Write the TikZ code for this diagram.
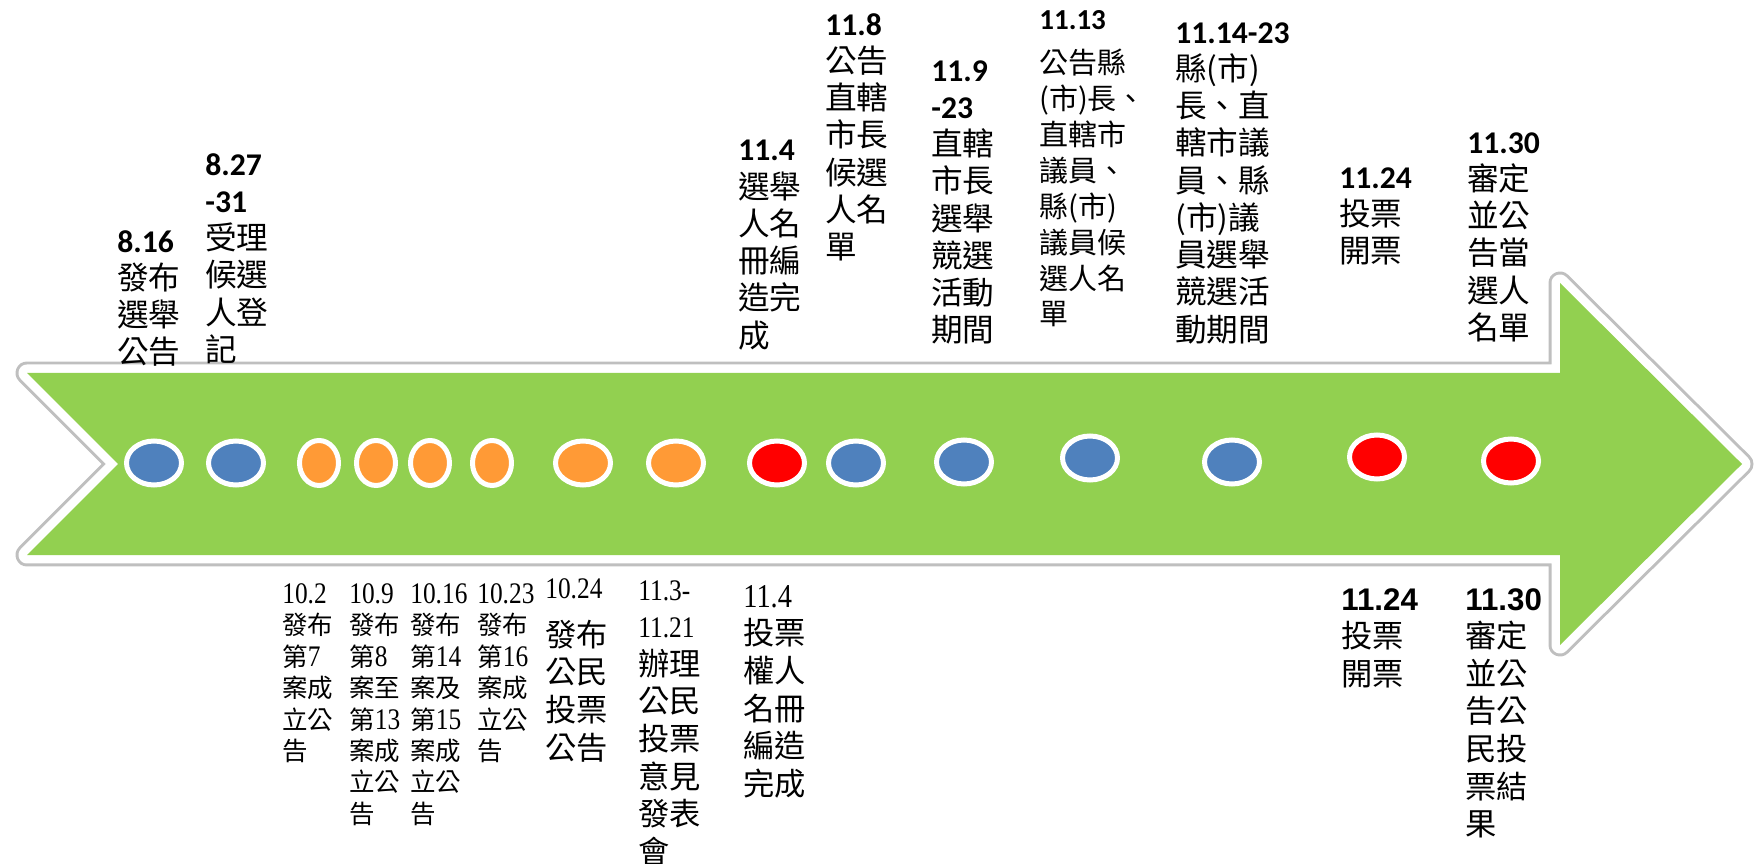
\documentclass[tikz,border=0pt]{standalone}
\usepackage{fontspec}
\usetikzlibrary{shapes.geometric}

\setmainfont{Noto Sans CJK TC}
\newfontfamily\datefont{Carlito}
\newfontfamily\serifnarrow{Liberation Serif}[FakeStretch=0.85]
\newfontfamily\arialfont{Liberation Sans}

\definecolor{arrowgreen}{HTML}{92D050}
\definecolor{evtblue}{HTML}{4F81BD}
\definecolor{evtorange}{HTML}{FF9A36}
\definecolor{evtred}{HTML}{FF0000}

\newcommand\topdate[1]{{\datefont\bfseries #1}}
\newcommand\serdate[1]{{\fontsize{17pt}{18pt}\selectfont\serifnarrow #1}}
\newcommand\arialdate[1]{{\arialfont\bfseries #1}}

\begin{document}
\begin{tikzpicture}[
        x=0.02cm, y=-0.02cm,
        evt/.style={ellipse, draw=white, line width=0.1cm, fill=#1,
            minimum width=1.1cm, minimum height=0.88cm, inner sep=0pt},
        evtnarrow/.style={evt=#1, minimum width=0.78cm, minimum height=0.9cm},
        uplabel/.style={anchor=north west, align=left, inner sep=0pt,
            font={\fontsize{18pt}{21.2pt}\selectfont}},
        upsmall/.style={uplabel, font={\fontsize{16.5pt}{20.4pt}\selectfont}},
        lowsmall/.style={uplabel, font={\fontsize{14.5pt}{17.9pt}\selectfont}},
        lowlabel/.style={uplabel, font={\fontsize{17.8pt}{21.4pt}\selectfont}}
        ]
        \useasboundingbox (0,0) rectangle (1754,864);

        % The arrow
        \fill[arrowgreen,
            preaction={draw=black!25, line width=0.46cm, line join=round},
            preaction={draw=white, line width=0.34cm, line join=round}]
            (27,373) -- (1560,373) -- (1560,283) -- (1742,464) -- (1560,645)
            -- (1560,555) -- (27,555) -- (118,464) -- cycle;

        % Define the events
        \node[evt=evtblue] (e1) at (154,463) {};
        \node[evt=evtblue] (e2) at (236,463) {};
        \node[evtnarrow=evtorange] (e3) at (319,463) {};
        \node[evtnarrow=evtorange] (e4) at (376,463) {};
        \node[evtnarrow=evtorange] (e5) at (430,463) {};
        \node[evtnarrow=evtorange] (e6) at (492,463) {};
        \node[evt=evtorange] (e7) at (583,463) {};
        \node[evt=evtorange] (e8) at (676,463) {};
        \node[evt=evtred] (e9) at (777,463) {};
        \node[evt=evtblue] (e10) at (856,463) {};
        \node[evt=evtblue] (e11) at (964,462) {};
        \node[evt=evtblue] (e12) at (1090,458) {};
        \node[evt=evtblue] (e13) at (1232,462) {};
        \node[evt=evtred] (e14) at (1377,457) {};
        \node[evt=evtred] (e15) at (1511,461) {};

        % Labels above the arrow
        \node[uplabel] (up816) at (117,230) {\topdate{8.16}\\發布\\選舉\\公告};
        \node[uplabel] (up827) at (205,153) {\topdate{8.27}\\\topdate{-31}\\受理\\候選\\人登\\記};
        \node[uplabel] (up114) at (738,140) {\topdate{11.4}\\選舉\\人名\\冊編\\造完\\成};
        \node[uplabel] (up118) at (825,13) {\topdate{11.8}\\公告\\直轄\\市長\\候選\\人名\\單};
        \node[uplabel] (up119) at (931,60) {\topdate{11.9}\\\topdate{-23}\\直轄\\市長\\選舉\\競選\\活動\\期間};
        \node[upsmall] (up1113) at (1039,10) {\topdate{11.13}\\[5pt]公告縣\\(市)長、\\直轄市\\議員、\\縣(市)\\議員候\\選人名\\單};
        \node[uplabel] (up1114) at (1175,22) {\topdate{11.14-23}\\縣(市)\\長、直\\轄市議\\員、縣\\(市)議\\員選舉\\競選活\\動期間};
        \node[uplabel] (up1124) at (1339,167) {\topdate{11.24}\\投票\\開票};
        \node[uplabel] (up1130) at (1467,132) {\topdate{11.30}\\審定\\並公\\告當\\選人\\名單};

        % Labels below the arrow
        \node[lowsmall] (low102) at (282,583) {\serdate{10.2}\\發布\\第\serdate{7}\\案成\\立公\\告};
        \node[lowsmall] (low109) at (349,583) {\serdate{10.9}\\發布\\第\serdate{8}\\案至\\第\serdate{13}\\案成\\立公\\告};
        \node[lowsmall] (low1016) at (410,583) {\serdate{10.16}\\發布\\第\serdate{14}\\案及\\第\serdate{15}\\案成\\立公\\告};
        \node[lowsmall] (low1023) at (477,583) {\serdate{10.23}\\發布\\第\serdate{16}\\案成\\立公\\告};
        \node[lowlabel] (low1024) at (545,578) {\serdate{10.24}\\[6pt]發布\\公民\\投票\\公告};
        \node[lowlabel] (low113) at (638,580) {\serdate{11.3-}\\\serdate{11.21}\\辦理\\公民\\投票\\意見\\發表\\會};
        \node[lowlabel] (low114) at (743,585) {{\fontsize{19pt}{18pt}\selectfont\serifnarrow 11.4}\\投票\\權人\\名冊\\編造\\完成};
        \node[lowlabel] (low1124) at (1341,588) {\arialdate{11.24}\\投票\\開票};
        \node[lowlabel] (low1130) at (1465,588) {\arialdate{11.30}\\審定\\並公\\告公\\民投\\票結\\果};
    \end{tikzpicture}
\end{document}
